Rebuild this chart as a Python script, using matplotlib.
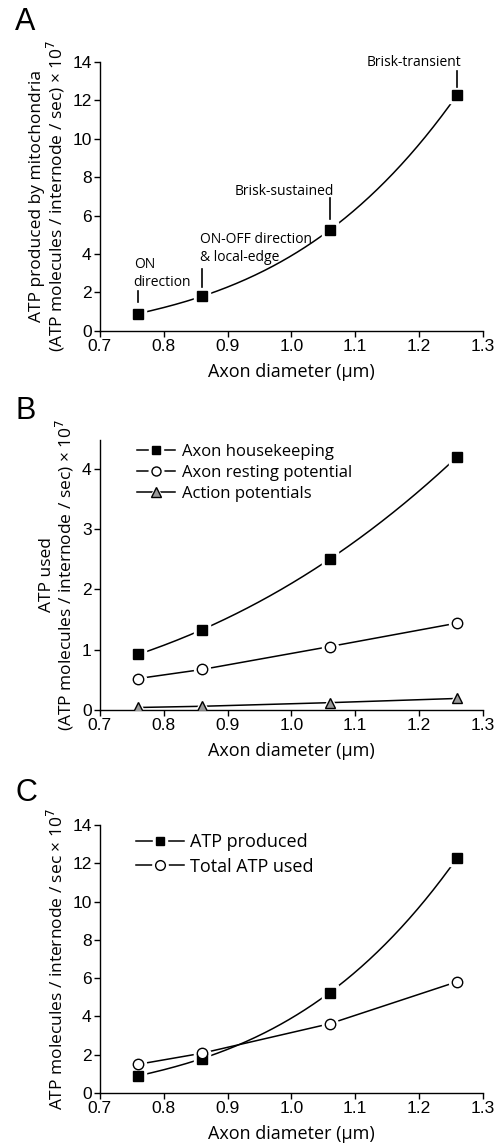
import numpy as np
import matplotlib
matplotlib.use('Agg')
import matplotlib.pyplot as plt
from matplotlib.lines import Line2D

plt.rcParams['font.family'] = ['Liberation Sans', 'DejaVu Sans']

# ---- data ----
diam = [0.76, 0.86, 1.06, 1.26]
atp_produced = [0.9, 1.8, 5.25, 12.3]
cell_types = ['ON\ndirection', 'ON-OFF direction\n& local-edge', 'Brisk-sustained', 'Brisk-transient']

housekeeping = [0.92, 1.33, 2.5, 4.2]
resting = [0.52, 0.67, 1.05, 1.44]
action_pot = [0.04, 0.06, 0.12, 0.19]

total_used = [1.5, 2.08, 3.62, 5.82]

xticks = [0.7, 0.8, 0.9, 1.0, 1.1, 1.2, 1.3]
lw = 1.1
label_font = ['Open Sans', 'DejaVu Sans']


def smooth(ax, x, y):
    # cubic through the 4 points
    c = np.polyfit(x, y, 3)
    xs = np.linspace(x[0], x[-1], 200)
    ax.plot(xs, np.polyval(c, xs), color='black', lw=lw, zorder=1)


def straight(ax, x, y):
    ax.plot(x, y, color='black', lw=lw, zorder=1)


def markers(ax, x, y, m, fc, ms):
    ax.plot(x, y, ls='none', marker=m, ms=ms + 4, mfc='white', mec='white', zorder=2)
    ax.plot(x, y, ls='none', marker=m, ms=ms, mfc=fc, mec='black', mew=1.0, zorder=3)


def handle(m, fc, ms):
    line = Line2D([], [], color='black', lw=lw)
    gap = Line2D([], [], ls='none', marker=m, ms=ms + 4, mfc='white', mec='white')
    mk = Line2D([], [], ls='none', marker=m, ms=ms, mfc=fc, mec='black', mew=1.0)
    return (line, gap, mk)


def style(ax, ylim, yticks):
    ax.set_xlim(0.7, 1.3)
    ax.set_ylim(*ylim)
    ax.set_xticks(xticks)
    ax.set_xticklabels([f'{t:.1f}' for t in xticks])
    ax.set_yticks(yticks)
    for s in ['top', 'right']:
        ax.spines[s].set_visible(False)
    for s in ['left', 'bottom']:
        ax.spines[s].set_linewidth(1.0)
    ax.tick_params(direction='out', length=4.5, width=1.0, labelsize=12.5, pad=1.5)
    ax.set_xlabel('Axon diameter (µm)', fontsize=13, family=label_font, labelpad=6)


fig = plt.figure(figsize=(5.02, 11.45), dpi=100)

# ---- A ----
axA = fig.add_axes([0.199, 0.711, 0.763, 0.235])
smooth(axA, diam, atp_produced)
markers(axA, diam, atp_produced, 's', 'black', 7)
style(axA, (0, 14), range(0, 15, 2))
axA.set_ylabel('ATP produced by mitochondria\n(ATP molecules / internode / sec) × 10$^7$',
               fontsize=12.5, family=label_font, labelpad=4, linespacing=0.95)
# per label: line start, line end, text centre (offsets above the point), text x, ha
ann = [(0.6, 1.2, 2.1, 0.753, 'left'), (0.5, 1.4, 2.5, 0.857, 'left'),
       (0.55, 1.65, 2.0, 1.067, 'right'), (0.4, 1.2, 1.65, 1.267, 'right')]
for xv, yv, lab, (l0, l1, tc, tx, ha) in zip(diam, atp_produced, cell_types, ann):
    axA.plot([xv, xv], [yv + l0, yv + l1], color='black', lw=1.2)
    axA.text(tx, yv + tc, lab, ha=ha, va='center', fontsize=10,
             family=label_font, linespacing=1.25)

# ---- B ----
axB = fig.add_axes([0.199, 0.380, 0.763, 0.236])
smooth(axB, diam, housekeeping)
straight(axB, diam, resting)
straight(axB, diam, action_pot)
markers(axB, diam, housekeeping, 's', 'black', 7)
markers(axB, diam, resting, 'o', 'white', 7.5)
markers(axB, diam, action_pot, '^', '#9a9a9a', 7.5)
style(axB, (0, 4.48), range(0, 5))
axB.set_ylabel('ATP used\n(ATP molecules / internode / sec) × 10$^7$',
               fontsize=12.5, family=label_font, labelpad=4, linespacing=0.95)
hB = [handle('s', 'black', 6), handle('o', 'white', 6.5), handle('^', '#9a9a9a', 6.5)]
axB.legend(hB, ['Axon housekeeping', 'Axon resting potential', 'Action potentials'],
           loc='upper left', bbox_to_anchor=(0.057, 1.04), frameon=False, numpoints=1,
           handlelength=2.3, handletextpad=0.4, labelspacing=0.3,
           prop={'family': label_font, 'size': 12})

# ---- C ----
axC = fig.add_axes([0.199, 0.0454, 0.763, 0.234])
smooth(axC, diam, atp_produced)
straight(axC, diam, total_used)
markers(axC, diam, atp_produced, 's', 'black', 7)
markers(axC, diam, total_used, 'o', 'white', 7.5)
style(axC, (0, 14), range(0, 15, 2))
axC.set_ylabel('ATP molecules / internode / sec × 10$^7$', fontsize=12.5,
               family=label_font, labelpad=4)
hC = [handle('s', 'black', 6), handle('o', 'white', 7)]
axC.legend(hC, ['ATP produced', 'Total ATP used'],
           loc='upper left', bbox_to_anchor=(0.052, 1.03), frameon=False, numpoints=1,
           handlelength=2.65, handletextpad=0.35, labelspacing=0.35,
           prop={'family': label_font, 'size': 13})

# panel letters
for lab, y in [('A', 0.981), ('B', 0.641), ('C', 0.307)]:
    fig.text(0.03, y, lab, fontsize=22, ha='left', va='center')

fig.savefig('out.png', dpi=100)
